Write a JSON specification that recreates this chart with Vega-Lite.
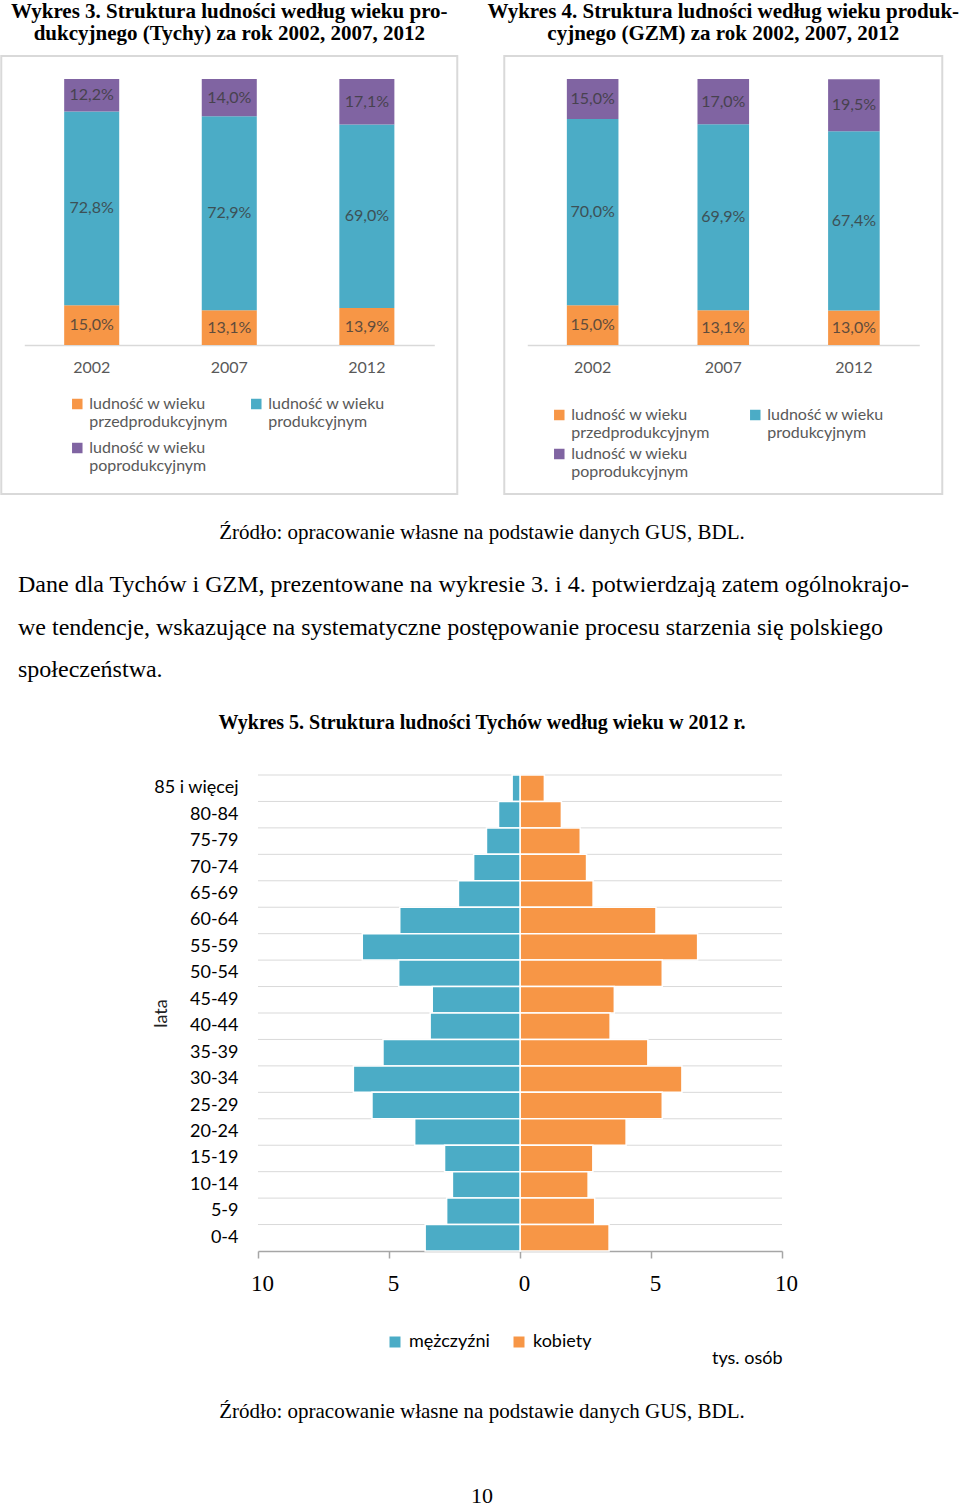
{
  "$schema": "https://vega.github.io/schema/vega-lite/v6.json",
  "background": "white",
  "padding": 0,
  "config": {
    "locale": {"number": {"decimal": ",", "thousands": " ", "grouping": [3], "currency": ["", ""]}},
    "view": {"stroke": null},
    "font": "Lato"
  },
  "datasets": {
    "struktura": [
      {"wykres": "Tychy", "rok": "2002", "grupa": "ludność w wieku przedprodukcyjnym", "udzial": 0.150},
      {"wykres": "Tychy", "rok": "2002", "grupa": "ludność w wieku produkcyjnym", "udzial": 0.728},
      {"wykres": "Tychy", "rok": "2002", "grupa": "ludność w wieku poprodukcyjnym", "udzial": 0.122},
      {"wykres": "Tychy", "rok": "2007", "grupa": "ludność w wieku przedprodukcyjnym", "udzial": 0.131},
      {"wykres": "Tychy", "rok": "2007", "grupa": "ludność w wieku produkcyjnym", "udzial": 0.729},
      {"wykres": "Tychy", "rok": "2007", "grupa": "ludność w wieku poprodukcyjnym", "udzial": 0.140},
      {"wykres": "Tychy", "rok": "2012", "grupa": "ludność w wieku przedprodukcyjnym", "udzial": 0.139},
      {"wykres": "Tychy", "rok": "2012", "grupa": "ludność w wieku produkcyjnym", "udzial": 0.690},
      {"wykres": "Tychy", "rok": "2012", "grupa": "ludność w wieku poprodukcyjnym", "udzial": 0.171},
      {"wykres": "GZM", "rok": "2002", "grupa": "ludność w wieku przedprodukcyjnym", "udzial": 0.150},
      {"wykres": "GZM", "rok": "2002", "grupa": "ludność w wieku produkcyjnym", "udzial": 0.700},
      {"wykres": "GZM", "rok": "2002", "grupa": "ludność w wieku poprodukcyjnym", "udzial": 0.150},
      {"wykres": "GZM", "rok": "2007", "grupa": "ludność w wieku przedprodukcyjnym", "udzial": 0.131},
      {"wykres": "GZM", "rok": "2007", "grupa": "ludność w wieku produkcyjnym", "udzial": 0.699},
      {"wykres": "GZM", "rok": "2007", "grupa": "ludność w wieku poprodukcyjnym", "udzial": 0.170},
      {"wykres": "GZM", "rok": "2012", "grupa": "ludność w wieku przedprodukcyjnym", "udzial": 0.130},
      {"wykres": "GZM", "rok": "2012", "grupa": "ludność w wieku produkcyjnym", "udzial": 0.674},
      {"wykres": "GZM", "rok": "2012", "grupa": "ludność w wieku poprodukcyjnym", "udzial": 0.195}
    ],
    "piramida": [
      {"wiek": "85 i więcej", "plec": "mężczyźni", "tys": 0.3},
      {"wiek": "80-84", "plec": "mężczyźni", "tys": 0.82},
      {"wiek": "75-79", "plec": "mężczyźni", "tys": 1.28},
      {"wiek": "70-74", "plec": "mężczyźni", "tys": 1.77},
      {"wiek": "65-69", "plec": "mężczyźni", "tys": 2.35},
      {"wiek": "60-64", "plec": "mężczyźni", "tys": 4.59},
      {"wiek": "55-59", "plec": "mężczyźni", "tys": 6.02},
      {"wiek": "50-54", "plec": "mężczyźni", "tys": 4.63},
      {"wiek": "45-49", "plec": "mężczyźni", "tys": 3.35},
      {"wiek": "40-44", "plec": "mężczyźni", "tys": 3.43},
      {"wiek": "35-39", "plec": "mężczyźni", "tys": 5.23},
      {"wiek": "30-34", "plec": "mężczyźni", "tys": 6.36},
      {"wiek": "25-29", "plec": "mężczyźni", "tys": 5.65},
      {"wiek": "20-24", "plec": "mężczyźni", "tys": 4.02},
      {"wiek": "15-19", "plec": "mężczyźni", "tys": 2.88},
      {"wiek": "10-14", "plec": "mężczyźni", "tys": 2.58},
      {"wiek": "5-9", "plec": "mężczyźni", "tys": 2.8},
      {"wiek": "0-4", "plec": "mężczyźni", "tys": 3.62},
      {"wiek": "85 i więcej", "plec": "kobiety", "tys": 0.93},
      {"wiek": "80-84", "plec": "kobiety", "tys": 1.58},
      {"wiek": "75-79", "plec": "kobiety", "tys": 2.3},
      {"wiek": "70-74", "plec": "kobiety", "tys": 2.54},
      {"wiek": "65-69", "plec": "kobiety", "tys": 2.79},
      {"wiek": "60-64", "plec": "kobiety", "tys": 5.19},
      {"wiek": "55-59", "plec": "kobiety", "tys": 6.78},
      {"wiek": "50-54", "plec": "kobiety", "tys": 5.43},
      {"wiek": "45-49", "plec": "kobiety", "tys": 3.6},
      {"wiek": "40-44", "plec": "kobiety", "tys": 3.44},
      {"wiek": "35-39", "plec": "kobiety", "tys": 4.88},
      {"wiek": "30-34", "plec": "kobiety", "tys": 6.18},
      {"wiek": "25-29", "plec": "kobiety", "tys": 5.43},
      {"wiek": "20-24", "plec": "kobiety", "tys": 4.05},
      {"wiek": "15-19", "plec": "kobiety", "tys": 2.78},
      {"wiek": "10-14", "plec": "kobiety", "tys": 2.6},
      {"wiek": "5-9", "plec": "kobiety", "tys": 2.85},
      {"wiek": "0-4", "plec": "kobiety", "tys": 3.4}
    ]
  },
  "spacing": 0,
  "center": true,
  "resolve": {"scale": {"color": "independent"}, "legend": {"color": "independent"}},
  "vconcat": [
    {
      "spacing": 47,
      "bounds": "flush",
      "resolve": {"scale": {"color": "independent"}, "legend": {"color": "independent"}},
      "hconcat": [
        {
          "title": {"text": ["Wykres 3.  Struktura ludności według wieku pro-", "dukcyjnego (Tychy) za rok 2002, 2007, 2012"], "font": "Liberation Serif", "fontSize": 21, "fontWeight": "bold", "color": "black", "lineHeight": 22, "baseline": "bottom", "offset": -9, "anchor": "middle"},
          "width": 456,
          "height": 438,
          "view": {"stroke": "#d9d9d9", "strokeWidth": 2},
          "data": {"name": "struktura"},
          "transform": [
            {"filter": "datum.wykres == 'Tychy'"},
            {"stack": "udzial", "groupby": ["rok"], "sort": [{"field": "grupa", "order": "descending"}], "as": ["v0", "v1"]}
          ],
          "encoding": {
            "x": {"field": "rok", "type": "nominal", "scale": {"range": [23, 433], "paddingInner": 0.6, "paddingOuter": 0.29},
              "axis": {"title": null, "orient": "bottom", "offset": -149, "domainColor": "#d9d9d9", "domainWidth": 1.5, "ticks": false, "labelAngle": 0, "labelFont": "Lato", "labelFontSize": 16, "labelColor": "#595959", "labelPadding": 14}}
          },
          "layer": [
            {
              "mark": {"type": "bar"},
              "encoding": {
                "y": {"field": "v0", "type": "quantitative", "scale": {"domain": [-0.56, 1.0865], "nice": false, "zero": false}, "axis": null},
                "y2": {"field": "v1"},
                "color": {"field": "grupa", "type": "nominal",
                  "scale": {"domain": ["ludność w wieku przedprodukcyjnym", "ludność w wieku produkcyjnym", "ludność w wieku poprodukcyjnym"], "range": ["#F79646", "#4BACC6", "#8064A2"]},
                  "legend": {"orient": "none", "legendX": 68, "legendY": 340, "direction": "horizontal", "title": null, "columns": 2, "symbolType": "square", "symbolSize": 110, "symbolStrokeWidth": 0, "labelFont": "Lato", "labelFontSize": 16, "labelColor": "#595959", "labelLimit": 400, "labelOffset": 4, "columnPadding": 20, "rowPadding": 10, "labelExpr": "[slice(datum.label, 0, 15), slice(datum.label, 16)]"}}
              }
            },
            {
              "transform": [
                {"fold": ["v0", "v1"], "as": ["kraniec", "poz"]},
                {"aggregate": [{"op": "mean", "field": "poz", "as": "srodek"}], "groupby": ["rok", "grupa", "udzial"]}
              ],
              "mark": {"type": "text", "font": "Lato", "fontSize": 16, "color": "#3a3a3a", "opacity": 0.8, "baseline": "middle"},
              "encoding": {
                "y": {"field": "srodek", "type": "quantitative"},
                "text": {"field": "udzial", "type": "quantitative", "format": ".1%"}
              }
            }
          ]
        },
        {
          "title": {"text": ["Wykres 4.  Struktura ludności według wieku produk-", "cyjnego (GZM) za rok 2002, 2007, 2012"], "font": "Liberation Serif", "fontSize": 21, "fontWeight": "bold", "color": "black", "lineHeight": 22, "baseline": "bottom", "offset": -9, "anchor": "middle"},
          "width": 438,
          "height": 438,
          "view": {"stroke": "#d9d9d9", "strokeWidth": 2},
          "data": {"name": "struktura"},
          "transform": [
            {"filter": "datum.wykres == 'GZM'"},
            {"stack": "udzial", "groupby": ["rok"], "sort": [{"field": "grupa", "order": "descending"}], "as": ["v0", "v1"]}
          ],
          "encoding": {
            "x": {"field": "rok", "type": "nominal", "scale": {"range": [23, 415], "paddingInner": 0.605, "paddingOuter": 0.303},
              "axis": {"title": null, "orient": "bottom", "offset": -149, "domainColor": "#d9d9d9", "domainWidth": 1.5, "ticks": false, "labelAngle": 0, "labelFont": "Lato", "labelFontSize": 16, "labelColor": "#595959", "labelPadding": 14}}
          },
          "layer": [
            {
              "mark": {"type": "bar"},
              "encoding": {
                "y": {"field": "v0", "type": "quantitative", "scale": {"domain": [-0.56, 1.0865], "nice": false, "zero": false}, "axis": null},
                "y2": {"field": "v1"},
                "color": {"field": "grupa", "type": "nominal",
                  "scale": {"domain": ["ludność w wieku przedprodukcyjnym", "ludność w wieku produkcyjnym", "ludność w wieku poprodukcyjnym"], "range": ["#F79646", "#4BACC6", "#8064A2"]},
                  "legend": {"orient": "none", "legendX": 47, "legendY": 351, "direction": "horizontal", "title": null, "columns": 2, "symbolType": "square", "symbolSize": 110, "symbolStrokeWidth": 0, "labelFont": "Lato", "labelFontSize": 16, "labelColor": "#595959", "labelLimit": 400, "labelOffset": 4, "columnPadding": 37, "rowPadding": 5, "labelExpr": "[slice(datum.label, 0, 15), slice(datum.label, 16)]"}}
              }
            },
            {
              "transform": [
                {"fold": ["v0", "v1"], "as": ["kraniec", "poz"]},
                {"aggregate": [{"op": "mean", "field": "poz", "as": "srodek"}], "groupby": ["rok", "grupa", "udzial"]}
              ],
              "mark": {"type": "text", "font": "Lato", "fontSize": 16, "color": "#3a3a3a", "opacity": 0.8, "baseline": "middle"},
              "encoding": {
                "y": {"field": "srodek", "type": "quantitative"},
                "text": {"field": "udzial", "type": "quantitative", "format": ".1%"}
              }
            }
          ]
        }
      ]
    },
    {
      "width": 960,
      "height": 69,
      "data": {"values": [{"tekst": "Źródło: opracowanie własne na podstawie danych GUS, BDL."}]},
      "mark": {"type": "text", "font": "Liberation Serif", "fontSize": 21, "color": "black", "dy": 3.5},
      "encoding": {"text": {"field": "tekst", "type": "nominal"}}
    },
    {
      "width": 928,
      "height": 148.5,
      "data": {"values": [
        {"wiersz": 1, "tekst": "Dane dla Tychów i GZM, prezentowane na wykresie 3. i 4. potwierdzają zatem ogólnokrajo-"},
        {"wiersz": 2, "tekst": "we tendencje, wskazujące na systematyczne postępowanie procesu starzenia się polskiego"},
        {"wiersz": 3, "tekst": "społeczeństwa."}
      ]},
      "mark": {"type": "text", "align": "left", "baseline": "middle", "font": "Liberation Serif", "fontSize": 24, "color": "black"},
      "encoding": {
        "y": {"field": "wiersz", "type": "ordinal", "axis": null, "scale": {"type": "band", "paddingInner": 0, "paddingOuter": 0.247, "align": 0}},
        "x": {"datum": 0, "type": "quantitative", "scale": {"domain": [0, 1], "nice": false}, "axis": null},
        "text": {"field": "tekst", "type": "nominal"}
      }
    },
    {
      "title": {"text": "Wykres 5. Struktura ludności Tychów według wieku w 2012 r.", "font": "Liberation Serif", "fontSize": 20, "fontWeight": "bold", "color": "black", "anchor": "middle", "baseline": "bottom", "dx": 0, "offset": 21},
      "width": 960,
      "height": 476,
      "data": {"name": "piramida"},
      "encoding": {
        "y": {"field": "wiek", "type": "nominal",
          "sort": ["85 i więcej", "80-84", "75-79", "70-74", "65-69", "60-64", "55-59", "50-54", "45-49", "40-44", "35-39", "30-34", "25-29", "20-24", "15-19", "10-14", "5-9", "0-4"],
          "scale": {"paddingInner": 0, "paddingOuter": 0},
          "axis": {"offset": -256, "title": "lata", "titleFont": "Lato", "titleFontSize": 18, "titleFontWeight": "normal", "titleColor": "#222222", "titleX": -88, "labelFont": "Lato", "labelFontSize": 18, "labelColor": "black", "labelPadding": 20, "ticks": false, "domain": false, "grid": false}}
      },
      "layer": [
        {
          "transform": [{"filter": "datum.plec == 'kobiety'"}],
          "mark": {"type": "rule", "color": "#d9d9d9", "strokeWidth": 1},
          "encoding": {
            "y": {"field": "wiek", "type": "nominal", "bandPosition": 0,
              "sort": ["85 i więcej", "80-84", "75-79", "70-74", "65-69", "60-64", "55-59", "50-54", "45-49", "40-44", "35-39", "30-34", "25-29", "20-24", "15-19", "10-14", "5-9", "0-4"],
              "axis": {"offset": -256, "title": "lata", "titleFont": "Lato", "titleFontSize": 18, "titleFontWeight": "normal", "titleColor": "#222222", "titleX": -88, "labelFont": "Lato", "labelFontSize": 18, "labelColor": "black", "labelPadding": 20, "ticks": false, "domain": false, "grid": false}},
            "x": {"datum": -10, "type": "quantitative", "scale": {"domain": [-10, 10], "range": [256, 780], "nice": false}, "axis": null},
            "x2": {"datum": 10}
          }
        },
        {
          "transform": [{"filter": "datum.plec == 'kobiety'"}],
          "mark": {"type": "bar", "stroke": "white", "strokeWidth": 1.5},
          "encoding": {
            "x": {"field": "tys", "type": "quantitative", "scale": {"domain": [-10, 10], "range": [256, 780], "nice": false},
              "axis": {"values": [-10, -5, 0, 5, 10], "labelExpr": "abs(datum.value)", "grid": false, "labelFlush": false, "labelOffset": 4, "title": "tys. osób", "domainColor": "#a6a6a6", "domainWidth": 1.5, "tickColor": "#a6a6a6", "tickWidth": 1.5, "tickSize": 7, "labelFont": "Liberation Serif", "labelFontSize": 23, "labelColor": "black", "labelPadding": 14, "titleFont": "Lato", "titleFontSize": 18, "titleFontWeight": "normal", "titleColor": "black", "titleAnchor": "end", "titlePadding": 54}},
            "color": {"field": "plec", "type": "nominal", "scale": {"domain": ["mężczyźni", "kobiety"], "range": ["#4BACC6", "#F79646"]},
              "legend": {"orient": "none", "legendX": 384, "legendY": 558, "direction": "horizontal", "title": null, "symbolType": "square", "symbolSize": 121, "symbolStrokeWidth": 0, "labelFont": "Lato", "labelFontSize": 18, "labelColor": "black", "labelOffset": 5, "columnPadding": 20}}
          }
        },
        {
          "transform": [{"filter": "datum.plec == 'mężczyźni'"}],
          "mark": {"type": "bar", "stroke": "white", "strokeWidth": 1.5},
          "encoding": {
            "x": {"field": "tys", "type": "quantitative", "scale": {"domain": [10, -10], "range": [256, 780], "nice": false}, "axis": null},
            "color": {"field": "plec", "type": "nominal"}
          }
        }
      ],
      "resolve": {"scale": {"x": "independent"}, "axis": {"x": "independent"}}
    },
    {
      "width": 960,
      "height": 90,
      "data": {"values": [{"tekst": "Źródło: opracowanie własne na podstawie danych GUS, BDL."}]},
      "mark": {"type": "text", "font": "Liberation Serif", "fontSize": 21, "color": "black"},
      "encoding": {"text": {"field": "tekst", "type": "nominal"}}
    },
    {
      "width": 960,
      "height": 78,
      "data": {"values": [{"tekst": "10"}]},
      "mark": {"type": "text", "font": "Liberation Serif", "fontSize": 22, "color": "black"},
      "encoding": {"text": {"field": "tekst", "type": "nominal"}}
    }
  ]
}
